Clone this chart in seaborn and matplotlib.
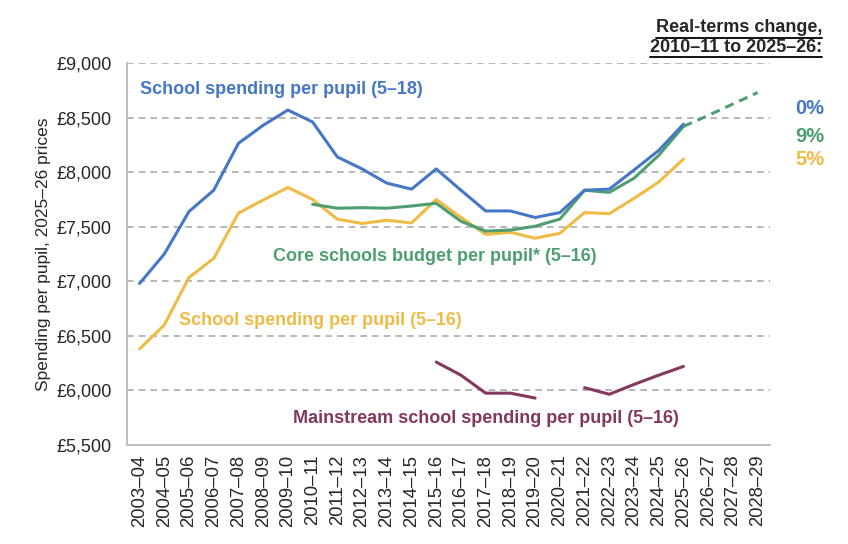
import numpy as np
import pandas as pd
import matplotlib
matplotlib.use("Agg")
import matplotlib.pyplot as plt
from matplotlib.lines import Line2D
import seaborn as sns

years = ["2003–04", "2004–05", "2005–06", "2006–07", "2007–08", "2008–09", "2009–10",
         "2010–11", "2011–12", "2012–13", "2013–14", "2014–15", "2015–16", "2016–17",
         "2017–18", "2018–19", "2019–20", "2020–21", "2021–22", "2022–23", "2023–24",
         "2024–25", "2025–26", "2026–27", "2027–28", "2028–29"]
nan = np.nan

# School spending per pupil (5-18)
spend_5_18 = [6980, 7250, 7640, 7835, 8265, 8430, 8570, 8460, 8140, 8030, 7900, 7845,
              8030, 7835, 7645, 7645, 7585, 7630, 7835, 7845, 8020, 8200, 8440,
              nan, nan, nan]
# Core schools budget per pupil (5-16)
core_budget = [nan, nan, nan, nan, nan, nan, nan, 7706, 7670, 7675, 7670, 7690,
               7715, 7550, 7460, 7470, 7505, 7570, 7835, 7815, 7945, 8155, 8420,
               nan, nan, nan]
# Core schools budget, planned (dashed)
core_plans = [nan] * 22 + [8420, 8520, 8625, 8730]
# School spending per pupil (5-16)
spend_5_16 = [6380, 6600, 7035, 7210, 7625, 7745, 7860, 7750, 7570, 7530, 7560, 7535,
              7750, 7585, 7430, 7450, 7395, 7440, 7630, 7620, 7760, 7910, 8120,
              nan, nan, nan]
# Mainstream school spending per pupil (5-16)
mainstream = [nan] * 12 + [6260, 6140, 5975, 5975, 5930, nan, 6025, 5965, 6055, 6140, 6220,
                           nan, nan, nan]

change_labels = ["0%", "9%", "5%"]

BLUE = "#4677C6"
GREEN = "#4E9E70"
YELLOW = "#EFBB44"
PURPLE = "#84385F"

sns.set_style("white")
plt.rcParams["font.family"] = ["Liberation Sans", "DejaVu Sans"]

idx = np.arange(len(years))
df = pd.DataFrame({"idx": idx, "s518": spend_5_18, "core": core_budget,
                   "plans": core_plans, "s516": spend_5_16, "main": mainstream})
# segment ids so the gap in the mainstream series stays open
df["seg"] = np.cumsum(df["main"].isna())

fig = plt.figure(figsize=(8.48, 5.44), dpi=100)
ax = fig.add_axes([0.150, 0.182, 0.758, 0.702])

for y in range(6000, 9001, 500):
    ax.axhline(y, color="#ABABAB", lw=1.2, ls=(0, (4, 3)), zorder=0)

lw = 2.2
sns.lineplot(data=df.dropna(subset=["s516"]), x="idx", y="s516", color=YELLOW, lw=lw, ax=ax)
sns.lineplot(data=df.dropna(subset=["core"]), x="idx", y="core", color=GREEN, lw=lw, ax=ax)
sns.lineplot(data=df.dropna(subset=["s518"]), x="idx", y="s518", color=BLUE, lw=lw, ax=ax)
sns.lineplot(data=df.dropna(subset=["plans"]), x="idx", y="plans", color=GREEN, lw=lw,
             ls=(0, (3, 2)), ax=ax)
sns.lineplot(data=df.dropna(subset=["main"]), x="idx", y="main", units="seg",
             estimator=None, color=PURPLE, lw=lw, ax=ax)

ax.set_xlim(-0.5, len(years) - 0.5)
ax.set_ylim(5500, 9000)
ax.set_yticks(range(5500, 9001, 500))
ax.set_yticklabels([f"£{v:,}" for v in range(5500, 9001, 500)], fontsize=13)
ax.set_xticks(idx)
ax.set_xticklabels(years, rotation=90, fontsize=13.3)
ax.set_xticks(np.arange(-0.5, len(years)), minor=True)
ax.tick_params(axis="x", which="major", length=0, pad=7)
ax.tick_params(axis="x", which="minor", length=5, color="#BFBFBF", width=1.2)
ax.tick_params(axis="y", length=5, color="#BFBFBF", width=1.2, pad=6)
ax.set_xlabel("")
ax.set_ylabel("Spending per pupil, 2025–26 prices", fontsize=12.5, labelpad=4)

for side in ["top", "right"]:
    ax.spines[side].set_visible(False)
for side in ["left", "bottom"]:
    ax.spines[side].set_color("#BFBFBF")
    ax.spines[side].set_linewidth(1.4)

kw = dict(fontsize=13, fontweight="bold", va="center", ha="left")
ax.text(0.0, 8755, "School spending per pupil (5–18)", color=BLUE, **kw)
ax.text(5.4, 7230, "Core schools budget per pupil* (5–16)", color=GREEN, **kw)
ax.text(1.6, 6640, "School spending per pupil (5–16)", color=YELLOW, **kw)
ax.text(6.2, 5740, "Mainstream school spending per pupil (5–16)", color=PURPLE, **kw)

for lab, col, y in zip(change_labels, [BLUE, GREEN, YELLOW], [8580, 8330, 8120]):
    ax.text(1.085, y, lab, color=col, fontsize=14.5, fontweight="bold", ha="right",
            va="center", transform=ax.get_yaxis_transform())

# header with underlined lines
fig.canvas.draw()
renderer = fig.canvas.get_renderer()
for line, ypx in [("Real-terms change,", 28), ("2010–11 to 2025–26:", 47)]:
    t = fig.text(822 / 848, 1 - ypx / 544, line, fontsize=13, fontweight="bold",
                 ha="right", va="center")
    bb = t.get_window_extent(renderer).transformed(fig.transFigure.inverted())
    fig.add_artist(Line2D([bb.x0, bb.x1], [bb.y0 - 0.003, bb.y0 - 0.003],
                          transform=fig.transFigure, color="black", lw=1.3))

fig.savefig("out.png", dpi=100)
